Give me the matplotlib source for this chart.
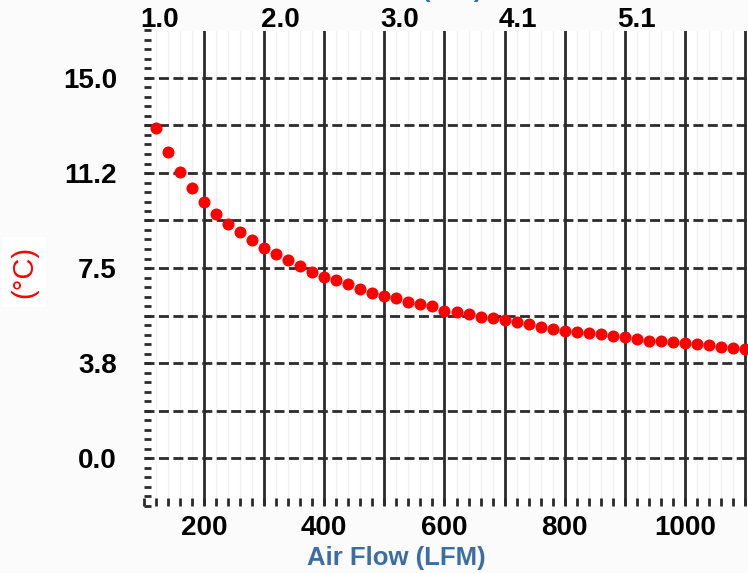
import numpy as np
import matplotlib.pyplot as plt
from matplotlib.ticker import MultipleLocator

plt.rcParams['font.family'] = ['Liberation Sans', 'DejaVu Sans']

# air flow (LFM) and temperature rise (deg C)
air_flow = [120, 140, 160, 180, 200, 220, 240, 260, 280, 300,
            320, 340, 360, 380, 400, 420, 440, 460, 480, 500,
            520, 540, 560, 580, 600, 620, 640, 660, 680, 700,
            720, 740, 760, 780, 800, 820, 840, 860, 880, 900,
            920, 940, 960, 980, 1000, 1020, 1040, 1060, 1080, 1100]
temp_rise = [13.01, 12.09, 11.30, 10.65, 10.12, 9.63, 9.24, 8.92, 8.61, 8.30,
             8.04, 7.80, 7.58, 7.34, 7.16, 7.01, 6.87, 6.68, 6.53, 6.40,
             6.30, 6.15, 6.08, 6.00, 5.82, 5.75, 5.69, 5.58, 5.52, 5.45,
             5.36, 5.29, 5.18, 5.10, 5.03, 4.99, 4.95, 4.88, 4.82, 4.79,
             4.71, 4.63, 4.61, 4.57, 4.55, 4.49, 4.48, 4.39, 4.33, 4.32]

y_ticks = [0.0, 3.75, 7.5, 11.25, 15.0]
y_labels = ['0.0', '3.8', '7.5', '11.2', '15.0']
x_ticks = [200, 400, 600, 800, 1000]

# top axis (m/s) labels and where they sit on the LFM scale
top_pos = [126.7, 326.7, 525, 721.7, 920]
top_labels = ['1.0', '2.0', '3.0', '4.1', '5.1']

blue = '#3b6ea5'
grid_col = '#2b2b2b'

fig = plt.figure(figsize=(7.48, 5.73), dpi=100, facecolor='#fbfbfb')
ax = fig.add_axes([144 / 748, 67.5 / 573, 604 / 748, 475 / 573])
ax.set_facecolor('white')

ax.scatter(air_flow, temp_rise, s=75, color='red', zorder=5, linewidths=0)

ax.set_xlim(100, 1105)
ax.set_ylim(-1.875, 16.875)

# grid: faint minor verticals, solid majors every 100, dashed horizontals
for x in np.arange(120, 1105, 20):
    ax.axvline(x, color='#f1f1f1', lw=1, zorder=1)
for x in np.arange(200, 1105, 100):
    ax.axvline(x, color=grid_col, lw=2, zorder=2)
for y in np.arange(0, 16.0, 1.875):
    ax.axhline(y, color=grid_col, lw=2, ls=(0, (3.6, 1.6)), zorder=2)

ax.set_xticks(x_ticks)
ax.set_xticklabels([str(v) for v in x_ticks])
ax.xaxis.set_minor_locator(MultipleLocator(20))
ax.set_yticks(y_ticks)
ax.set_yticklabels(y_labels)
ax.yaxis.set_minor_locator(MultipleLocator(0.375))

ax.tick_params(axis='both', which='both', direction='in', color=grid_col,
               width=2, labelsize=20)
ax.tick_params(axis='x', which='both', length=6, pad=7)
ax.tick_params(axis='y', which='both', length=5, pad=19.5)
for lab in ax.get_xticklabels() + ax.get_yticklabels():
    lab.set_fontweight('bold')

for s in ax.spines.values():
    s.set_visible(False)

ax2 = ax.twiny()
ax2.set_xlim(ax.get_xlim())
ax2.set_xticks(top_pos)
ax2.set_xticklabels(top_labels, fontsize=20, fontweight='bold')
ax2.tick_params(axis='x', length=0, pad=-1.5)
for s in ax2.spines.values():
    s.set_visible(False)

fig.text(396 / 748, 1 - 558 / 573, 'Air Flow (LFM)', color=blue, fontsize=18.5,
         fontweight='bold', ha='center', va='center')
fig.text(452 / 748, 1 + 3 / 573, '(m/s)', color=blue, fontsize=18.5,
         fontweight='bold', ha='center', va='baseline')
fig.text(24 / 748, 1 - 272 / 573, '(°C)', color='red', fontsize=21,
         rotation=90, ha='center', va='center',
         bbox=dict(facecolor='white', edgecolor='none', pad=6))

fig.savefig('out.png', dpi=100, facecolor=fig.get_facecolor())
